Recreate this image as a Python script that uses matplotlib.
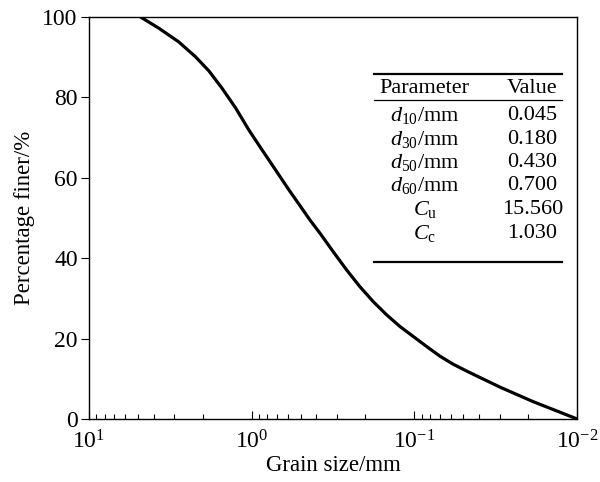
import numpy as np
import matplotlib
matplotlib.use("Agg")
import matplotlib.pyplot as plt
from matplotlib.ticker import LogLocator

plt.rcParams["font.family"] = ["Liberation Serif", "DejaVu Serif"]
plt.rcParams["mathtext.fontset"] = "custom"
plt.rcParams["mathtext.rm"] = "Liberation Serif"
plt.rcParams["mathtext.it"] = "Liberation Serif:italic"

# grading curve
grain_size = [4.81, 3.71, 2.80, 2.21, 1.83, 1.52, 1.25, 1.04, 0.861, 0.711,
              0.590, 0.505, 0.438, 0.380, 0.315, 0.261, 0.216, 0.179, 0.148,
              0.1226, 0.1014, 0.0839, 0.0695, 0.0576, 0.0476, 0.0404, 0.0297,
              0.0186, 0.0100]
percent_finer = [100.0, 97.2, 93.8, 90.1, 86.6, 82.3, 77.3, 71.9, 66.9, 61.9,
                 57.0, 53.1, 49.5, 46.2, 41.6, 37.1, 32.9, 29.2, 25.9,
                 23.0, 20.5, 18.0, 15.6, 13.6, 11.9, 10.5, 7.9,
                 4.3, 0.0]

# table
param_names = [r"$d_{10}$/mm", r"$d_{30}$/mm", r"$d_{50}$/mm", r"$d_{60}$/mm",
               r"$C_\mathrm{u}$", r"$C_\mathrm{c}$"]
param_values = ["0.045", "0.180", "0.430", "0.700", "15.560", "1.030"]

fig = plt.figure(figsize=(6.0, 4.82), dpi=100)
ax = fig.add_axes([0.148, 0.1307, 0.814, 0.834])

ax.plot(grain_size, percent_finer, color="black", lw=2.3,
        solid_capstyle="round", solid_joinstyle="round")

ax.set_xscale("log")
ax.set_xlim(10, 0.01)
ax.set_ylim(0, 100)
ax.set_yticks([0, 20, 40, 60, 80, 100])
ax.xaxis.set_minor_locator(LogLocator(base=10, subs=np.arange(2, 10)))

ax.tick_params(axis="x", which="major", direction="in", length=6, width=0.8,
               labelsize=17, pad=8)
ax.tick_params(axis="x", which="minor", direction="in", length=3.5, width=0.8)
ax.tick_params(axis="y", which="major", direction="out", length=6, width=0.8,
               labelsize=17, pad=2)
for s in ax.spines.values():
    s.set_linewidth(1.0)

ax.set_xlabel("Grain size/mm", fontsize=16.5, labelpad=1)
ax.set_ylabel("Percentage finer/%", fontsize=16.5, labelpad=5)

# table drawn in axes coordinates
x0, x1 = 0.584, 0.969
ax.plot([x0, x1], [0.858, 0.858], transform=ax.transAxes, color="black", lw=1.6, clip_on=False)
ax.plot([x0, x1], [0.7935, 0.7935], transform=ax.transAxes, color="black", lw=0.9, clip_on=False)
ax.plot([x0, x1], [0.3905, 0.3905], transform=ax.transAxes, color="black", lw=1.6, clip_on=False)

col_param = 0.688
col_value = 0.908
ax.text(col_param, 0.822, "Parameter", transform=ax.transAxes, ha="center", va="center", fontsize=16)
ax.text(col_value, 0.822, "Value", transform=ax.transAxes, ha="center", va="center", fontsize=16)
row_y = [0.754, 0.695, 0.638, 0.580, 0.522, 0.462]
for name, val, yy in zip(param_names, param_values, row_y):
    ax.text(col_param, yy, name, transform=ax.transAxes, ha="center", va="center", fontsize=16)
    ax.text(col_value, yy, val, transform=ax.transAxes, ha="center", va="center", fontsize=16)

fig.savefig("out.png", dpi=100)
